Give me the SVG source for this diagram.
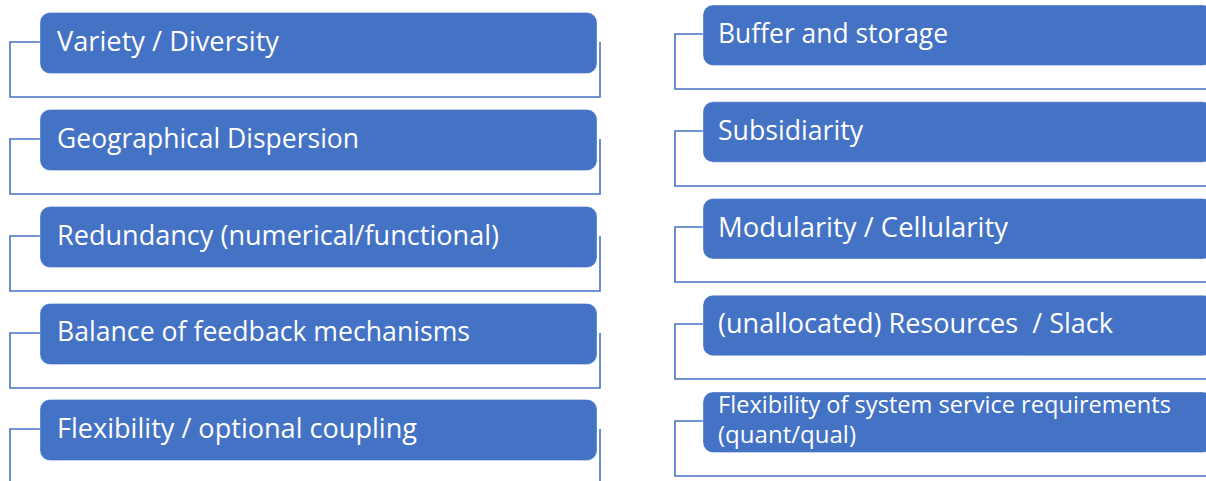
<svg xmlns="http://www.w3.org/2000/svg" width="1206" height="481" viewBox="0 0 1206 481">
  <style>
    .bracket { fill: none; stroke: #4472C4; stroke-width: 1.6; }
    .box { fill: #4472C4; stroke: #ffffff; stroke-opacity: 0.35; stroke-width: 1; }
    .label { fill: #ffffff; font-family: "Open Sans", "Liberation Sans", Arial, sans-serif; font-size: 26.5px; }
    .small { font-size: 23.5px; }
  </style>

  <!-- connectors: bracket outlines behind each item -->
  <g id="connectors">
    <path class="bracket" d="M40,42 H10 V97 H600 V42"/>
    <path class="bracket" d="M40,139 H10 V194 H600 V139"/>
    <path class="bracket" d="M40,236 H10 V291 H600 V236"/>
    <path class="bracket" d="M40,333 H10 V388 H600 V333"/>
    <path class="bracket" d="M40,429 H10 V486 H600 V429"/>

    <path class="bracket" d="M703,34 H675 V89 H1212 V34"/>
    <path class="bracket" d="M703,131 H675 V186 H1212 V131"/>
    <path class="bracket" d="M703,227 H675 V282 H1212 V227"/>
    <path class="bracket" d="M703,324 H675 V379 H1212 V324"/>
    <path class="bracket" d="M703,421 H675 V476 H1212 V421"/>
  </g>

  <!-- left column -->
  <g id="variety">
    <rect class="box" x="40" y="12.5" width="557" height="61" rx="10"/>
    <text class="label" x="57" y="51" textLength="222" lengthAdjust="spacingAndGlyphs">Variety / Diversity</text>
  </g>
  <g id="geographical">
    <rect class="box" x="40" y="109.5" width="557" height="61" rx="10"/>
    <text class="label" x="57" y="148" textLength="302" lengthAdjust="spacingAndGlyphs">Geographical Dispersion</text>
  </g>
  <g id="redundancy">
    <rect class="box" x="40" y="206.5" width="557" height="61" rx="10"/>
    <text class="label" x="57" y="245" textLength="442" lengthAdjust="spacingAndGlyphs">Redundancy (numerical/functional)</text>
  </g>
  <g id="feedback">
    <rect class="box" x="40" y="303.5" width="557" height="61" rx="10"/>
    <text class="label" x="57" y="341" textLength="413" lengthAdjust="spacingAndGlyphs">Balance of feedback mechanisms</text>
  </g>
  <g id="coupling">
    <rect class="box" x="40" y="399.5" width="557" height="61" rx="10"/>
    <text class="label" x="57" y="438" textLength="360" lengthAdjust="spacingAndGlyphs">Flexibility / optional coupling</text>
  </g>

  <!-- right column -->
  <g id="buffer">
    <rect class="box" x="703" y="5" width="510" height="60.5" rx="10"/>
    <text class="label" x="718" y="43" textLength="230" lengthAdjust="spacingAndGlyphs">Buffer and storage</text>
  </g>
  <g id="subsidiarity">
    <rect class="box" x="703" y="101.75" width="510" height="60.5" rx="10"/>
    <text class="label" x="718" y="140" textLength="145" lengthAdjust="spacingAndGlyphs">Subsidiarity</text>
  </g>
  <g id="modularity">
    <rect class="box" x="703" y="198.5" width="510" height="60.5" rx="10"/>
    <text class="label" x="718" y="237" textLength="290" lengthAdjust="spacingAndGlyphs">Modularity / Cellularity</text>
  </g>
  <g id="resources">
    <rect class="box" x="703" y="295.25" width="510" height="60.5" rx="10"/>
    <text class="label" x="718" y="333" textLength="395" lengthAdjust="spacingAndGlyphs" xml:space="preserve">(unallocated) Resources  / Slack</text>
  </g>
  <g id="service-requirements">
    <rect class="box" x="703" y="392" width="510" height="60.5" rx="10"/>
    <text class="label small" x="718" y="413" textLength="453" lengthAdjust="spacingAndGlyphs">Flexibility of system service requirements</text>
    <text class="label small" x="718" y="443" textLength="138" lengthAdjust="spacingAndGlyphs">(quant/qual)</text>
  </g>
</svg>
